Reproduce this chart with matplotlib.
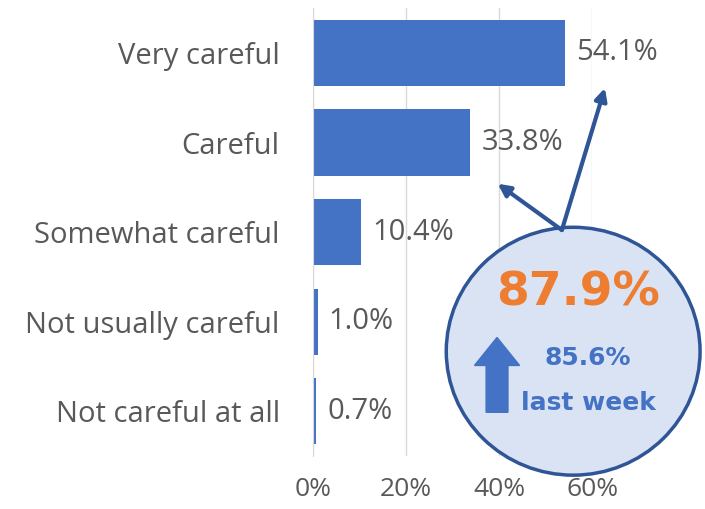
import matplotlib.pyplot as plt
import numpy as np
from matplotlib.patches import Ellipse, FancyArrowPatch, FancyArrow

categories = ['Very careful', 'Careful', 'Somewhat careful', 'Not usually careful', 'Not careful at all']
values = [54.1, 33.8, 10.4, 1.0, 0.7]
xticks = [0, 20, 40, 60]
headline = '87.9%'
last_week = '85.6%'

bar_color = '#4472c4'
text_gray = '#595959'
dark_blue = '#2f5597'

plt.rcParams['font.family'] = ['Open Sans', 'DejaVu Sans']

fig = plt.figure(figsize=(7.05, 5.09), dpi=100)
ax = fig.add_axes([0.444, 0.104, 0.396, 0.880])

y = np.arange(len(categories))
ax.barh(y, values, height=0.74, color=bar_color, zorder=2)
ax.set_ylim(len(categories) - 0.5, -0.5)
ax.set_xlim(0, 60)

ax.set_yticks(y)
ax.set_yticklabels(categories, fontsize=21, color=text_gray)
ax.set_xticks(xticks)
ax.set_xticklabels([f'{t}%' for t in xticks], fontsize=19, color=text_gray)
ax.tick_params(axis='y', length=0, pad=24)
ax.tick_params(axis='x', length=0, pad=15)

ax.grid(axis='x', color='#d9d9d9', lw=1, zorder=0)
for s in ['top', 'right', 'bottom']:
    ax.spines[s].set_visible(False)
ax.spines['left'].set_color('#d9d9d9')

for yi, v in zip(y, values):
    ax.annotate(f'{v:.1f}%', (v, yi), xytext=(8, 0), textcoords='offset points',
                va='center', ha='left', fontsize=21, color=text_gray)

# callout bubble
tf = fig.transFigure
circ = Ellipse((0.813, 0.310), 0.360, 0.487, transform=tf, facecolor='#dae3f3',
               edgecolor=dark_blue, lw=2.5, zorder=5, clip_on=False)
fig.patches.append(circ)

for tip in [(0.858, 0.827), (0.706, 0.639)]:
    arr = FancyArrowPatch((0.797, 0.548), tip, transform=tf, arrowstyle='-|>',
                          mutation_scale=18, lw=3, color=dark_blue, zorder=6,
                          shrinkA=0, shrinkB=0)
    fig.patches.append(arr)

fig.text(0.82, 0.424, headline, ha='center', va='center',
         fontsize=34, fontweight='bold', color='#ed7d31', zorder=7,
         family=['DejaVu Sans'])

up = FancyArrow(0.705, 0.190, 0, 0.147, width=0.031, head_width=0.064,
                head_length=0.055, length_includes_head=True, transform=tf,
                color=bar_color, zorder=7)
fig.patches.append(up)

fig.text(0.834, 0.297, last_week, ha='center', va='center', fontsize=18,
         fontweight='bold', color=bar_color, zorder=7, family=['DejaVu Sans'])
fig.text(0.834, 0.208, 'last week', ha='center', va='center', fontsize=18,
         fontweight='bold', color=bar_color, zorder=7, family=['DejaVu Sans'])

fig.savefig('out.png', dpi=100)
